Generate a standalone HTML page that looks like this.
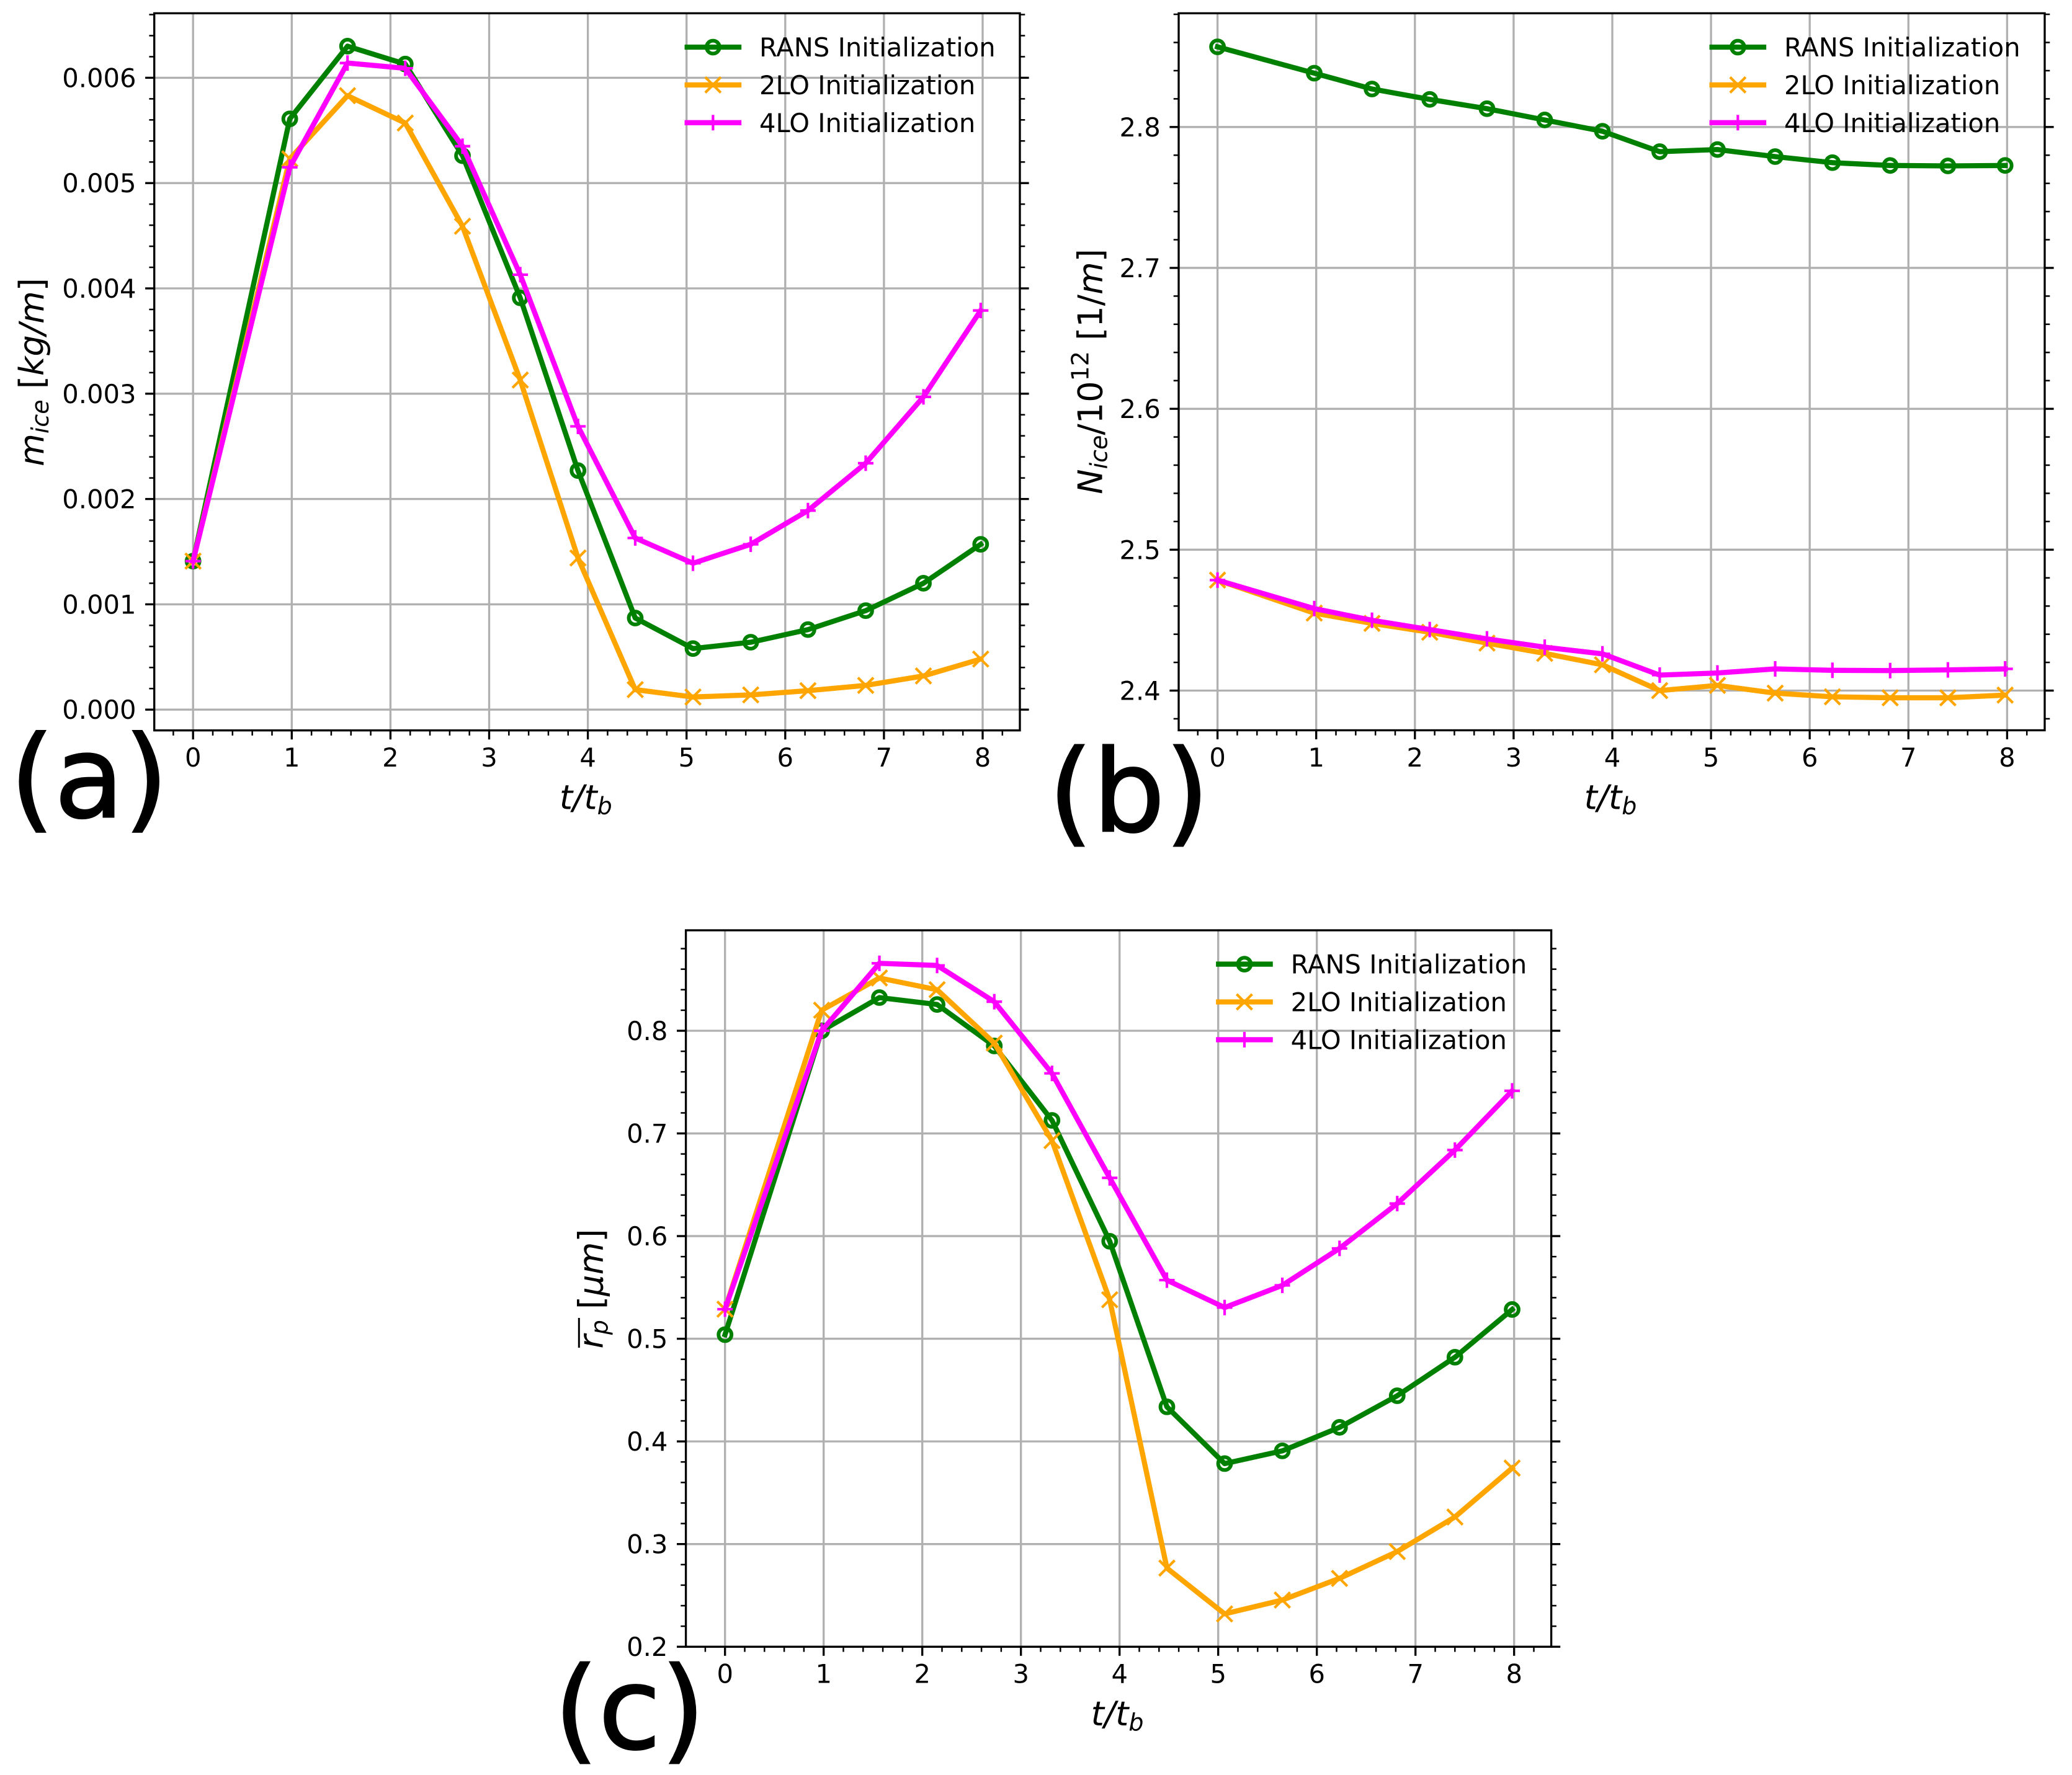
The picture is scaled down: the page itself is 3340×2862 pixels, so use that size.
<!DOCTYPE html>
<html lang="en">
<head>
<meta charset="utf-8">
<title>Ice mass, number and particle radius</title>
<style>
html,body{margin:0;padding:0;background:#fff;}
svg{display:block;}
text{font-family:"DejaVu Sans",sans-serif;fill:#000;}
</style>
</head>
<body>
<svg id="figure" xmlns="http://www.w3.org/2000/svg" width="3340" height="2862" viewBox="0 0 3340 2862"></svg>
<script>
// ---- shared data ----
const timeValues = [0, 0.98, 1.565, 2.15, 2.73, 3.315, 3.9, 4.48, 5.065, 5.65, 6.23, 6.815, 7.4, 7.98];
const xTickLabels = ['0', '1', '2', '3', '4', '5', '6', '7', '8'];
const seriesNames = ['RANS Initialization', '2LO Initialization', '4LO Initialization'];

// ---- panel (a) ice mass ----
const massRans = [0.00141, 0.00561, 0.0063, 0.00613, 0.00526, 0.00391, 0.00227, 0.00087, 0.00058, 0.00064, 0.00076, 0.00094, 0.0012, 0.00157];
const mass2lo = [0.00141, 0.00523, 0.00583, 0.00557, 0.00459, 0.00313, 0.00144, 0.00019, 0.00012, 0.00014, 0.00018, 0.00023, 0.00032, 0.00048];
const mass4lo = [0.00141, 0.00515, 0.00614, 0.00609, 0.00535, 0.00413, 0.00269, 0.00163, 0.00139, 0.00157, 0.00189, 0.00234, 0.00297, 0.00379];
const massTickLabels = ['0.000', '0.001', '0.002', '0.003', '0.004', '0.005', '0.006'];

// ---- panel (b) ice number ----
const numberRans = [2.8569, 2.8382, 2.827, 2.8196, 2.813, 2.805, 2.797, 2.7825, 2.784, 2.779, 2.7747, 2.7727, 2.7724, 2.7727];
const number2lo = [2.4784, 2.455, 2.4477, 2.4414, 2.4337, 2.4264, 2.4183, 2.4, 2.4037, 2.3982, 2.3956, 2.3949, 2.3949, 2.3968];
const number4lo = [2.4784, 2.4582, 2.4499, 2.4433, 2.4367, 2.4308, 2.4261, 2.411, 2.4125, 2.4154, 2.4144, 2.4142, 2.4147, 2.4154];
const numberTickLabels = ['2.4', '2.5', '2.6', '2.7', '2.8'];

// ---- panel (c) mean particle radius ----
const radiusRans = [0.504, 0.8, 0.8323, 0.8256, 0.7852, 0.7127, 0.595, 0.4337, 0.3784, 0.3908, 0.4137, 0.4445, 0.482, 0.5285];
const radius2lo = [0.5288, 0.82, 0.8514, 0.84, 0.788, 0.693, 0.538, 0.2766, 0.232, 0.2455, 0.2666, 0.2927, 0.3264, 0.374];
const radius4lo = [0.5288, 0.8, 0.8657, 0.8636, 0.8283, 0.7585, 0.6567, 0.5571, 0.5304, 0.552, 0.588, 0.6317, 0.6838, 0.7415];
const radiusTickLabels = ['0.2', '0.3', '0.4', '0.5', '0.6', '0.7', '0.8'];

const SVG_NS = 'http://www.w3.org/2000/svg';
const figure = document.getElementById('figure');
const GREEN = '#008000', ORANGE = '#ffa500', MAGENTA = '#ff00ff', GRID = '#b0b0b0';
const TICK_FONT = 41.67, LABEL_FONT = 54.17;

function svgEl(tag, attrs, parent) {
  const el = document.createElementNS(SVG_NS, tag);
  for (const k in attrs) el.setAttribute(k, attrs[k]);
  (parent || figure).appendChild(el);
  return el;
}

function drawMarker(kind, x, y, color, parent) {
  let m;
  if (kind === 'o') {
    m = svgEl('circle', {cx: x, cy: y, r: 10.4, fill: 'none', stroke: color, 'stroke-width': 6}, parent);
    
    
  } else if (kind === 'x') {
    const s = 12.5;
    m = svgEl('path', {d: `M${x - s} ${y - s}L${x + s} ${y + s}M${x - s} ${y + s}L${x + s} ${y - s}`, fill: 'none', stroke: color, 'stroke-width': 4.2}, parent);
    
    
  } else {
    const s = 12.5;
    m = svgEl('path', {d: `M${x - s} ${y}L${x + s} ${y}M${x} ${y - s}L${x} ${y + s}`, fill: 'none', stroke: color, 'stroke-width': 4.2}, parent);
    
    
  }
}

function drawPanel(p) {
  const group = svgEl('g', {});
  
  

  // axis functions
  const xAxis = v => p.x0 + v * p.xUnit;
  const yValues = p.yTickLabels.map(Number);
  const yFirst = yValues[0], yLast = yValues[yValues.length - 1];
  const yAxis = v => p.yFirstPx + (v - yFirst) * (p.yLastPx - p.yFirstPx) / (yLast - yFirst);
  const xMajors = xTickLabels.map(Number);

  // grid
  const grid = svgEl('g', {stroke: GRID, 'stroke-width': 3.33, fill: 'none'}, group);
  
  
  xMajors.forEach(v => {
    const l = svgEl('line', {x1: xAxis(v), x2: xAxis(v), y1: p.top, y2: p.bottom}, grid);
    
    
  });
  yValues.forEach(v => {
    const l = svgEl('line', {x1: p.left, x2: p.right, y1: yAxis(v), y2: yAxis(v)}, grid);
    
    
  });

  // series
  const kinds = ['o', 'x', '+'];
  const colors = [GREEN, ORANGE, MAGENTA];
  const seriesKeys = ['rans', '2lo', '4lo'];
  p.series.forEach((vals, i) => {
    const sg = svgEl('g', {}, group);
    
    
    const pts = vals.map((v, j) => xAxis(timeValues[j]).toFixed(2) + ',' + yAxis(v).toFixed(2)).join(' ');
    const line = svgEl('polyline', {points: pts, fill: 'none', stroke: colors[i], 'stroke-width': 8.33, 'stroke-linejoin': 'round', 'stroke-linecap': 'square'}, sg);
    
    
    vals.forEach((v, j) => drawMarker(kinds[i], xAxis(timeValues[j]), yAxis(v), colors[i], sg));
  });

  // ticks
  const ticks = svgEl('g', {stroke: '#000', fill: 'none'}, group);
  
  
  function hTick(y, len, w) {
    const a = svgEl('line', {x1: p.left, x2: p.left - len, y1: y, y2: y, 'stroke-width': w}, ticks);
    
    
    const b = svgEl('line', {x1: p.right, x2: p.right + len, y1: y, y2: y, 'stroke-width': w}, ticks);
    
    
  }
  yValues.forEach(v => hTick(yAxis(v), 14.6, 3.33));
  const yStep = (yValues[1] - yValues[0]) / 5;
  for (let k = -5; k <= 5 * yValues.length + 5; k++) {
    if (((k % 5) + 5) % 5 === 0) continue;
    const y = yAxis(yFirst + k * yStep);
    if (y < p.top - 1 || y > p.bottom - 1) continue;
    hTick(y, 8.3, 2.5);
  }
  xMajors.forEach(v => {
    const t = svgEl('line', {x1: xAxis(v), x2: xAxis(v), y1: p.bottom, y2: p.bottom + 14.6, 'stroke-width': 3.33}, ticks);
    
    
  });
  for (let k = -1; k <= 41; k++) {
    if (((k % 5) + 5) % 5 === 0) continue;
    const x = xAxis(k * 0.2);
    const t = svgEl('line', {x1: x, x2: x, y1: p.bottom, y2: p.bottom + 8.3, 'stroke-width': 2.5}, ticks);
    
    
  }

  // spines
  const spine = svgEl('rect', {x: p.left, y: p.top, width: p.right - p.left, height: p.bottom - p.top, fill: 'none', stroke: '#000', 'stroke-width': 3.33}, group);
  
  

  // tick labels
  p.yTickLabels.forEach((label, i) => {
    const t = svgEl('text', {x: p.left - 29.2, y: yAxis(yValues[i]) + 15, 'text-anchor': 'end', 'font-size': TICK_FONT}, group);
    t.textContent = label;
    
    
  });
  xTickLabels.forEach((label, i) => {
    const t = svgEl('text', {x: xAxis(xMajors[i]), y: p.bottom + 58.5, 'text-anchor': 'middle', 'font-size': TICK_FONT}, group);
    t.textContent = label;
    
    
  });

  // x axis title
  const xt = svgEl('text', {x: (p.left + p.right) / 2 - 2, y: p.bottom + 127, 'text-anchor': 'middle', 'font-size': LABEL_FONT}, group);
  xt.innerHTML = '<tspan font-style="italic">t/t</tspan><tspan font-style="italic" font-size="38" dy="8">b</tspan>';
  
  

  // y axis title
  const yt = svgEl('text', {transform: `translate(${p.yTitleX} ${p.yTitleY}) rotate(-90)`, x: 0, y: 0, 'text-anchor': 'middle', 'font-size': LABEL_FONT}, group);
  yt.innerHTML = p.yTitle;
  
  
  if (p.overline) {
    const o = svgEl('line', {x1: p.overline.x, x2: p.overline.x, y1: p.overline.y1, y2: p.overline.y2, stroke: '#000', 'stroke-width': 3}, group);
    
    
  }

  // legend
  const legend = svgEl('g', {}, group);
  
  
  const handleL = p.right - 536.3, handleR = handleL + 83.3;
  [54.6, 115.5, 176.4].forEach((dy, i) => {
    const y = p.top + dy;
    const entry = svgEl('g', {}, legend);
    
    
    const h = svgEl('line', {x1: handleL, x2: handleR, y1: y, y2: y, stroke: colors[i], 'stroke-width': 8.33, 'stroke-linecap': 'square'}, entry);
    
    
    drawMarker(kinds[i], (handleL + handleR) / 2, y, colors[i], entry);
    const t = svgEl('text', {x: p.right - 420, y: y + 15, 'font-size': TICK_FONT}, entry);
    t.textContent = seriesNames[i];
    
    
  });

  // panel letter
  const tag = svgEl('text', {x: p.tagX, y: p.tagY, 'font-size': 183.3, stroke: '#000', 'stroke-width': 2.5}, group);
  tag.textContent = p.tag;
  
  
}

drawPanel({
  name: 'panel-a-ice-mass', tag: '(a)', tagX: 16, tagY: 1317.3,
  left: 248.7, right: 1644, top: 21.4, bottom: 1177.7,
  x0: 311.2, xUnit: 159.1,
  yFirstPx: 1144.2, yLastPx: 125.4, yTickLabels: massTickLabels,
  series: [massRans, mass2lo, mass4lo],
  yTitleX: 70, yTitleY: 600,
  yTitle: '<tspan font-style="italic">m</tspan><tspan font-style="italic" font-size="38" dy="8">ice</tspan><tspan dy="-8"> [</tspan><tspan font-style="italic">kg/m</tspan><tspan>]</tspan>'
});

drawPanel({
  name: 'panel-b-ice-number', tag: '(b)', tagX: 1690, tagY: 1340,
  left: 1900, right: 3296, top: 21.4, bottom: 1177.5,
  x0: 1962.6, xUnit: 159.1,
  yFirstPx: 1113.5, yLastPx: 204.8, yTickLabels: numberTickLabels,
  series: [numberRans, number2lo, number4lo],
  yTitleX: 1776.7, yTitleY: 599,
  yTitle: '<tspan font-style="italic">N</tspan><tspan font-style="italic" font-size="38" dy="8">ice</tspan><tspan dy="-8">/10</tspan><tspan font-size="38" dy="-22">12</tspan><tspan dy="22"> [1/</tspan><tspan font-style="italic">m</tspan><tspan>]</tspan>'
});

drawPanel({
  name: 'panel-c-particle-radius', tag: '(c)', tagX: 893, tagY: 2819,
  left: 1105.6, right: 2500.6, top: 1500, bottom: 2655.2,
  x0: 1168.7, xUnit: 159,
  yFirstPx: 2655.2, yLastPx: 1662, yTickLabels: radiusTickLabels,
  series: [radiusRans, radius2lo, radius4lo],
  yTitleX: 971.7, yTitleY: 2078,
  yTitle: '<tspan font-style="italic">r</tspan><tspan font-style="italic" font-size="38" dy="8">p</tspan><tspan dy="-8"> [</tspan><tspan font-style="italic">μm</tspan><tspan>]</tspan>',
  overline: {x: 933.3, y1: 2125, y2: 2173}
});
</script>
</body>
</html>
